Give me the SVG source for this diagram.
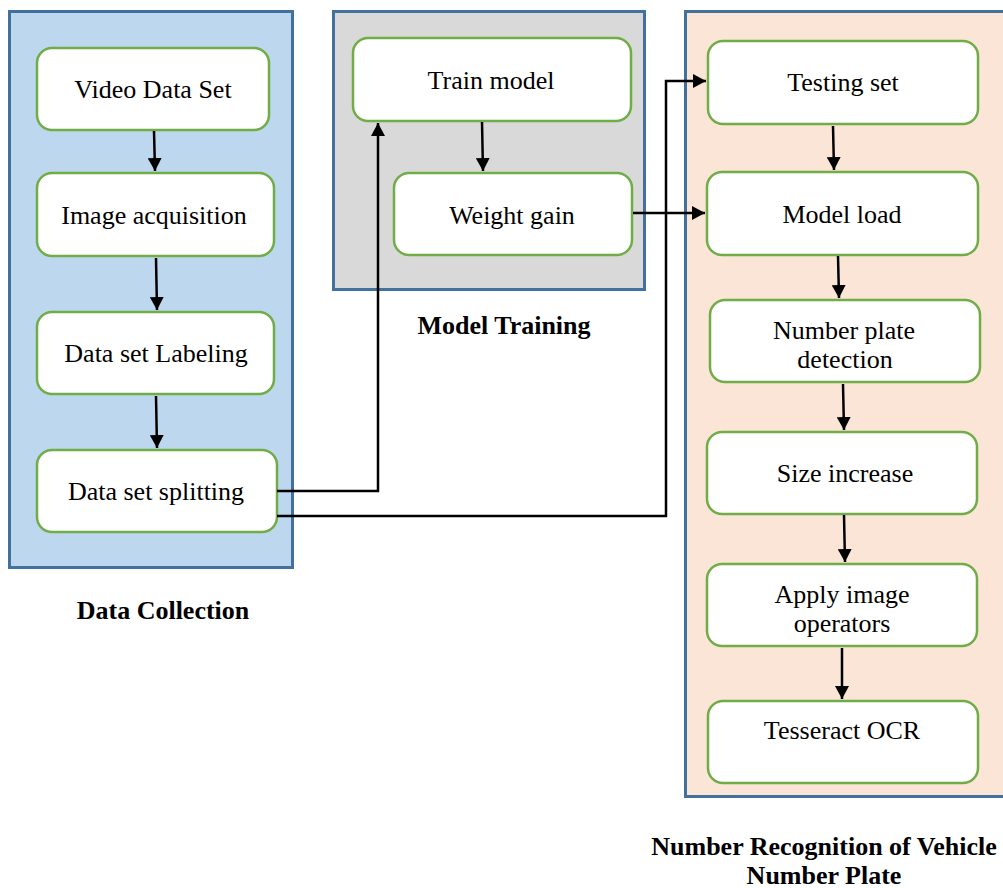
<svg xmlns="http://www.w3.org/2000/svg" width="1003" height="888" viewBox="0 0 1003 888">
<style>
.cont{stroke:#41719C;stroke-width:3}
.node{fill:#fff;stroke:#70AD47;stroke-width:2.5}
.t{font-family:"Liberation Serif","Times New Roman",serif;font-size:26px;fill:#000;text-anchor:middle}
.lbl{font-family:"Liberation Serif","Times New Roman",serif;font-size:26px;font-weight:bold;fill:#000;text-anchor:middle}
.c{fill:none;stroke:#000;stroke-width:2.5}
</style>
<defs>
<marker id="ah" viewBox="0 0 13 14" refX="13" refY="7" markerWidth="13" markerHeight="14" markerUnits="userSpaceOnUse" orient="auto">
<path d="M0,0 L13,7 L0,14 z" fill="#000"/>
</marker>
</defs>
<rect width="1003" height="888" fill="#fff"/>
<g id="data-collection">
<rect class="cont" x="9.5" y="11.5" width="283" height="556" fill="#BDD7EE"/>
<text class="lbl" x="163" y="619">Data Collection</text>
</g>
<g id="model-training">
<rect class="cont" x="333.5" y="11.5" width="311" height="278" fill="#D9D9D9"/>
<text class="lbl" x="504" y="334">Model Training</text>
</g>
<g id="number-recognition">
<rect class="cont" x="685.5" y="11.5" width="320" height="785" fill="#FBE5D6"/>
<text class="lbl" x="824" y="855">Number Recognition of Vehicle</text>
<text class="lbl" x="824" y="884">Number Plate</text>
</g>
<g id="video-data-set">
<rect class="node" x="37" y="48" width="232" height="82" rx="15"/>
<text class="t" x="153" y="98">Video Data Set</text>
</g>
<g id="image-acquisition">
<rect class="node" x="37" y="173" width="237" height="83" rx="15"/>
<text class="t" x="154" y="224">Image acquisition</text>
</g>
<g id="data-set-labeling">
<rect class="node" x="37" y="312" width="237" height="82" rx="15"/>
<text class="t" x="156" y="362">Data set Labeling</text>
</g>
<g id="data-set-splitting">
<rect class="node" x="37" y="450" width="240" height="82" rx="15"/>
<text class="t" x="156" y="500">Data set splitting</text>
</g>
<g id="train-model">
<rect class="node" x="353" y="38" width="278" height="83" rx="15"/>
<text class="t" x="491" y="89">Train model</text>
</g>
<g id="weight-gain">
<rect class="node" x="394" y="173" width="238" height="82" rx="15"/>
<text class="t" x="512" y="224">Weight gain</text>
</g>
<g id="testing-set">
<rect class="node" x="708" y="41" width="270" height="83" rx="15"/>
<text class="t" x="843" y="91">Testing set</text>
</g>
<g id="model-load">
<rect class="node" x="707" y="172" width="271" height="83" rx="15"/>
<text class="t" x="842" y="223">Model load</text>
</g>
<g id="number-plate-detection">
<rect class="node" x="710" y="300" width="270" height="82" rx="15"/>
<text class="t" x="844" y="339">Number plate</text>
<text class="t" x="845" y="368">detection</text>
</g>
<g id="size-increase">
<rect class="node" x="707" y="432" width="270" height="82" rx="15"/>
<text class="t" x="845" y="482">Size increase</text>
</g>
<g id="apply-image-operators">
<rect class="node" x="707" y="564" width="270" height="82" rx="15"/>
<text class="t" x="842" y="603">Apply image</text>
<text class="t" x="842" y="632">operators</text>
</g>
<g id="tesseract-ocr">
<rect class="node" x="708" y="701" width="270" height="82" rx="15"/>
<text class="t" x="842" y="739">Tesseract OCR</text>
</g>
<g id="connectors">
<line class="c" x1="154" y1="131" x2="155" y2="171" marker-end="url(#ah)"/>
<line class="c" x1="156" y1="258" x2="157" y2="310" marker-end="url(#ah)"/>
<line class="c" x1="156" y1="396" x2="157" y2="448" marker-end="url(#ah)"/>
<polyline class="c" points="277,491 378,491 378,123" marker-end="url(#ah)"/>
<polyline class="c" points="277,516 666,516 666,81 706,81" marker-end="url(#ah)"/>
<line class="c" x1="482" y1="122" x2="483" y2="171" marker-end="url(#ah)"/>
<line class="c" x1="633" y1="213" x2="705" y2="213" marker-end="url(#ah)"/>
<line class="c" x1="833" y1="126" x2="834" y2="170" marker-end="url(#ah)"/>
<line class="c" x1="838" y1="256" x2="839" y2="298" marker-end="url(#ah)"/>
<line class="c" x1="843" y1="384" x2="844" y2="430" marker-end="url(#ah)"/>
<line class="c" x1="844" y1="515" x2="845" y2="562" marker-end="url(#ah)"/>
<line class="c" x1="842" y1="648" x2="842" y2="699" marker-end="url(#ah)"/>
</g>
</svg>
